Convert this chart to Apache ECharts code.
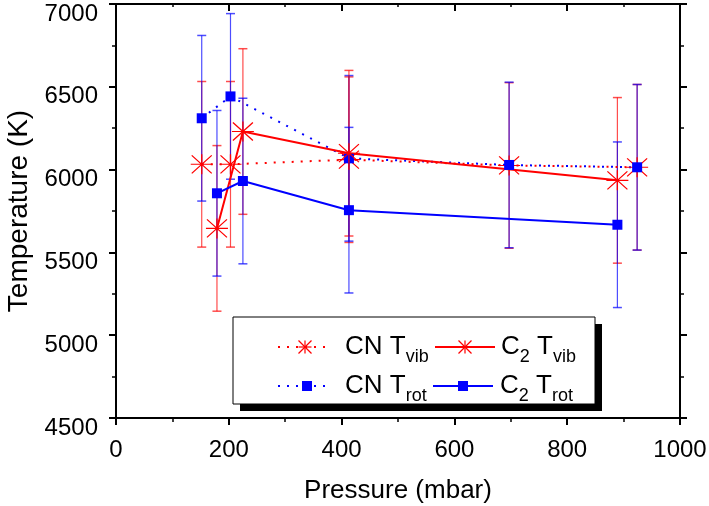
<!DOCTYPE html>
<html><head><meta charset="utf-8">
<script src="https://cdn.jsdelivr.net/npm/echarts@6/dist/echarts.min.js"></script>
<style>html,body{margin:0;padding:0;background:#fff;}#c{width:709px;height:506px;}</style>
</head><body><div id="c"></div>
<script>
// ---- data ----
const cnPressure = [152, 203, 413, 697, 924];
const cnTvib     = [6032, 6032, 6060, 6025, 6014];
const cnTrot     = [6310, 6442, 6068, 6028, 6014];
const cnTvibErr  = [500, 500, 500, 500, 500];
const cnTrotErr  = [500, 500, 500, 500, 500];
const c2Pressure = [179, 225, 413, 889];
const c2Tvib     = [5645, 6230, 6099, 5935];
const c2Trot     = [5857, 5931, 5755, 5667];
const c2TvibErr  = [500, 500, 500, 500];
const c2TrotErr  = [500, 500, 500, 500];
const xTicks = [0, 200, 400, 600, 800, 1000];
const yTicks = [4500, 5000, 5500, 6000, 6500, 7000];

const RED = '#ff0000', BLUE = '#0000ff';
const RED_ERR = 'rgba(255,0,0,0.7)', BLUE_ERR = 'rgba(0,0,255,0.7)';
const FONT = 'Liberation Sans';
const ASTER = 'path://M0 10 L22 10 M11 0 L11 20 M1 1 L21 19 M21 1 L1 19';

function pts(P, V) { return P.map((p, i) => [p, V[i]]); }
function errSeries(P, V, E, color) {
  return {
    type: 'custom', z: 1, silent: true, clip: false,
    data: P.map((p, i) => [p, V[i] - E[i], V[i] + E[i]]),
    encode: { x: 0, y: [1, 2] },
    renderItem(params, api) {
      const x = api.value(0);
      const lo = api.coord([x, api.value(1)]);
      const hi = api.coord([x, api.value(2)]);
      const w = 4.5;
      return { type: 'group', children: [
        { type: 'line', shape: { x1: lo[0], y1: lo[1], x2: hi[0], y2: hi[1] }, style: { stroke: color, lineWidth: 1.2 } },
        { type: 'line', shape: { x1: lo[0] - w, y1: lo[1], x2: lo[0] + w, y2: lo[1] }, style: { stroke: color, lineWidth: 1.5 } },
        { type: 'line', shape: { x1: hi[0] - w, y1: hi[1], x2: hi[0] + w, y2: hi[1] }, style: { stroke: color, lineWidth: 1.5 } }
      ] };
    }
  };
}
function lineSeries(name, P, V, color, dotted, aster) {
  return {
    type: 'line', name, z: 3, data: pts(P, V),
    symbol: aster ? ASTER : 'rect',
    symbolSize: aster ? [22, 20] : 10,
    lineStyle: { color, width: 2, type: dotted ? [2, 7] : 'solid', cap: 'butt' },
    itemStyle: aster ? { color, borderColor: color, borderWidth: 1.2 } : { color, borderWidth: 0 },
    emphasis: { disabled: true }
  };
}

const axisLineStyle = { show: true, onZero: false, lineStyle: { color: '#000', width: 2 } };
const tickStyle = { color: '#000', width: 2 };
const minorStyle = { color: '#000', width: 1.5 };
const plain = v => String(v);

// ---- legend (graphic) ----
function asterG(cx, cy, s) {
  const h = s / 2;
  const L = (x1, y1, x2, y2) => ({ type: 'line', shape: { x1, y1, x2, y2 }, style: { stroke: RED, lineWidth: 1.2 } });
  return [L(cx - h, cy, cx + h, cy), L(cx, cy - h, cx, cy + h), L(cx - h, cy - h, cx + h, cy + h), L(cx + h, cy - h, cx - h, cy + h)];
}
function legLine(x1, x2, y, color, dotted) {
  return { type: 'line', shape: { x1, y1: y, x2, y2: y }, style: { stroke: color, lineWidth: 2, lineDash: dotted ? [2, 7] : null } };
}
function squareG(cx, cy, color) {
  return { type: 'rect', shape: { x: cx - 5, y: cy - 5, width: 10, height: 10 }, style: { fill: color } };
}
const rich = {
  m: { fontFamily: FONT, fontSize: 26, lineHeight: 26, color: '#000', verticalAlign: 'top' },
  s: { fontFamily: FONT, fontSize: 18, lineHeight: 18, color: '#000', verticalAlign: 'top', padding: [14, 0, 0, 0] }
};
function legText(x, yTop, str) {
  return { type: 'text', x, y: yTop, style: { text: str, rich, verticalAlign: 'top', align: 'left' } };
}
const r1 = 347, r2 = 386;
const legendGraphic = [
  { type: 'rect', shape: { x: 240, y: 324, width: 362, height: 87 }, style: { fill: '#000' } },
  { type: 'rect', shape: { x: 233, y: 317, width: 362, height: 87 }, style: { fill: '#fff', stroke: '#000', lineWidth: 1 } },
  legLine(278, 330, r1, RED, true), ...asterG(305, r1, 13), legText(345, r1 - 13, '{m|CN T}{s|vib}'),
  legLine(435, 495, r1, RED, false), ...asterG(465, r1, 13), legText(501, r1 - 13, '{m|C}{s|2}{m| T}{s|vib}'),
  legLine(278, 330, r2, BLUE, true), squareG(307, r2, BLUE), legText(345, r2 - 13, '{m|CN T}{s|rot}'),
  legLine(433, 493, r2, BLUE, false), squareG(463, r2, BLUE), legText(500, r2 - 13, '{m|C}{s|2}{m| T}{s|rot}')
].map(e => Object.assign({ z: 100, silent: true }, e));

const option = {
  animation: false,
  backgroundColor: '#fff',
  grid: { left: 116, top: 4, width: 564, height: 414, containLabel: false, outerBoundsMode: 'none' },
  xAxis: [
    { type: 'value', position: 'bottom', min: xTicks[0], max: xTicks[xTicks.length - 1], interval: 200,
      axisLine: axisLineStyle, axisTick: { show: true, length: 7, lineStyle: tickStyle },
      minorTick: { show: true, splitNumber: 2, length: 4, lineStyle: minorStyle },
      splitLine: { show: false },
      axisLabel: { color: '#000', fontFamily: FONT, fontSize: 24, margin: 20, formatter: plain },
      name: 'Pressure (mbar)', nameLocation: 'middle', nameGap: 60,
      nameTextStyle: { color: '#000', fontFamily: FONT, fontSize: 26 } },
    { type: 'value', position: 'top', min: xTicks[0], max: xTicks[xTicks.length - 1], interval: 200,
      axisLine: axisLineStyle, axisTick: { show: true, inside: true, length: 7, lineStyle: tickStyle },
      minorTick: { show: true, splitNumber: 2, length: 3, lineStyle: minorStyle },
      splitLine: { show: false }, axisLabel: { show: false } }
  ],
  yAxis: [
    { type: 'value', position: 'left', min: yTicks[0], max: yTicks[yTicks.length - 1], interval: 500,
      axisLine: axisLineStyle, axisTick: { show: true, length: 7, lineStyle: tickStyle },
      minorTick: { show: true, splitNumber: 2, length: 4, lineStyle: minorStyle },
      splitLine: { show: false },
      axisLabel: { color: '#000', fontFamily: FONT, fontSize: 24, margin: 18, verticalAlign: 'top', lineHeight: 20, formatter: plain },
      name: 'Temperature (K)', nameLocation: 'middle', nameGap: 65,
      nameTextStyle: { color: '#000', fontFamily: FONT, fontSize: 28 } },
    { type: 'value', position: 'right', min: yTicks[0], max: yTicks[yTicks.length - 1], interval: 500,
      axisLine: axisLineStyle, axisTick: { show: true, length: 7, lineStyle: tickStyle },
      minorTick: { show: true, splitNumber: 2, length: 4, lineStyle: minorStyle },
      splitLine: { show: false }, axisLabel: { show: false } }
  ],
  series: [
    errSeries(cnPressure, cnTvib, cnTvibErr, RED_ERR),
    errSeries(cnPressure, cnTrot, cnTrotErr, BLUE_ERR),
    errSeries(c2Pressure, c2Tvib, c2TvibErr, RED_ERR),
    errSeries(c2Pressure, c2Trot, c2TrotErr, BLUE_ERR),
    lineSeries('CN Tvib', cnPressure, cnTvib, RED, true, true),
    lineSeries('CN Trot', cnPressure, cnTrot, BLUE, true, false),
    lineSeries('C2 Tvib', c2Pressure, c2Tvib, RED, false, true),
    lineSeries('C2 Trot', c2Pressure, c2Trot, BLUE, false, false)
  ],
  graphic: legendGraphic
};
const chart = echarts.init(document.getElementById('c'), null, { renderer: 'canvas' });
chart.setOption(option);
</script></body></html>
